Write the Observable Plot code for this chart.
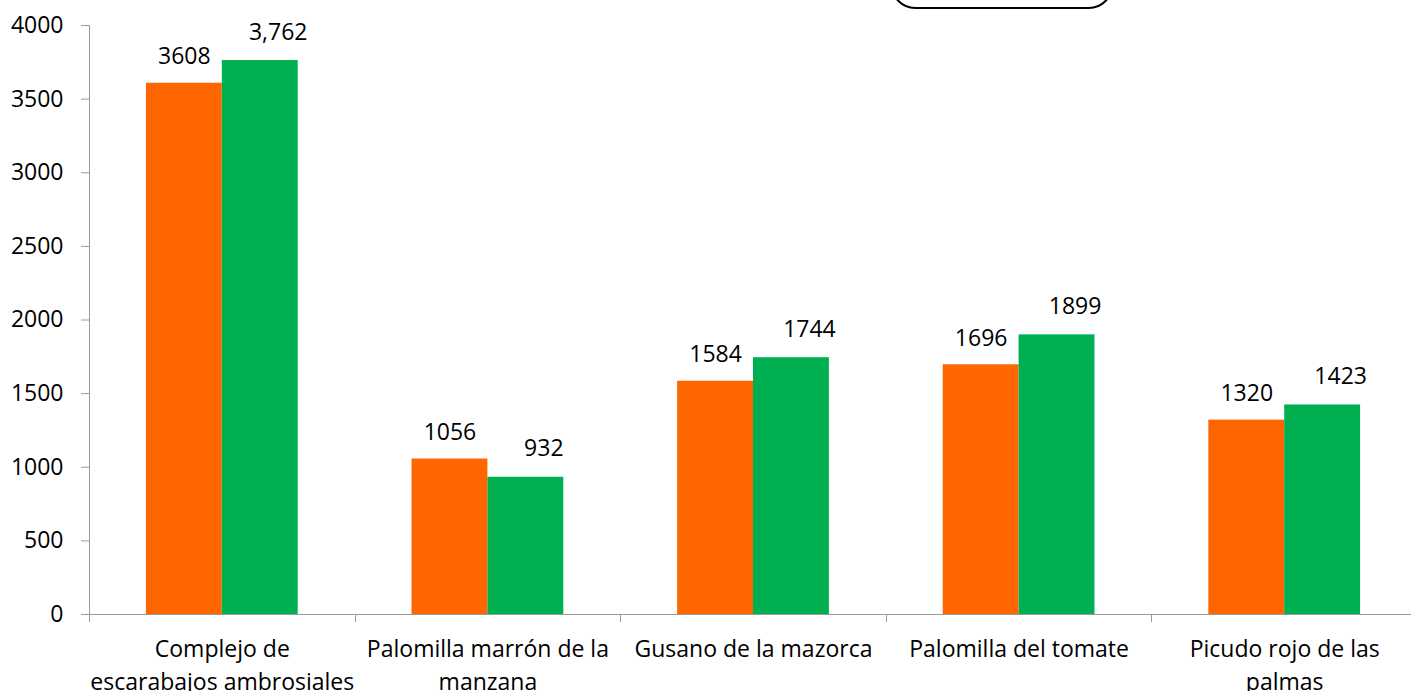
<!DOCTYPE html>
<html>
<head>
<meta charset="utf-8">
<script src="https://cdn.jsdelivr.net/npm/d3@7"></script>
<script src="https://cdn.jsdelivr.net/npm/@observablehq/plot@0.6"></script>
<style>
html, body { margin: 0; padding: 0; background: #fff; }
#wrap { position: relative; width: 1411px; height: 691px; overflow: hidden; background: #fff; }
#wrap svg { display: block; position: absolute; left: 0; top: 0; }
#box { position: absolute; left: 891px; top: -40px; width: 218px; height: 45px; border: 2.5px solid #000; border-radius: 24px; }
</style>
</head>
<body>
<div id="wrap"><div id="box"></div></div>
<script>
// ---- data ----
const categories = [
  "Complejo de\nescarabajos ambrosiales",
  "Palomilla marrón de la\nmanzana",
  "Gusano de la mazorca",
  "Palomilla del tomate",
  "Picudo rojo de las\npalmas"
];
const series = ["Serie 1", "Serie 2"];
const seriesOrange = [3608, 1056, 1584, 1696, 1320];
const seriesGreen = [3762, 932, 1744, 1899, 1423];
const labelsOrange = ["3608", "1056", "1584", "1696", "1320"];
const labelsGreen = ["3,762", "932", "1744", "1899", "1423"];
const yTicks = [0, 500, 1000, 1500, 2000, 2500, 3000, 3500, 4000];
const colors = ["#FF6600", "#00B050"];

const rows = categories.flatMap((c, i) => [
  {category: c, series: series[0], value: seriesOrange[i], label: labelsOrange[i]},
  {category: c, series: series[1], value: seriesGreen[i], label: labelsGreen[i]}
]);

const FS = 23;

const plot = Plot.plot({
  width: 1411,
  height: 691,
  marginLeft: 89,
  marginRight: -6,
  marginTop: 25,
  marginBottom: 77,
  style: {fontFamily: "'Open Sans', sans-serif", fontSize: FS + "px", color: "#000", background: "transparent", overflow: "visible"},
  fx: {domain: categories, padding: 0, round: false, label: null},
  x: {domain: series, paddingInner: 0, paddingOuter: 0.75, round: false, axis: null},
  y: {domain: [0, 4000], label: null},
  color: {domain: series, range: colors},
  marks: [
    Plot.barY(rows, {fx: "category", x: "series", y: "value", fill: "series"}),
    Plot.ruleY([0], {stroke: "#9a9a9a"}),
    Plot.axisY({ticks: yTicks, tickSize: 8, tickPadding: 18, stroke: "#9a9a9a", fill: "#000", fontSize: FS, tickFormat: d => String(d), label: null}),
    Plot.axisFx({anchor: "bottom", tickSize: 0, tickPadding: 19, lineHeight: 1.43, fontSize: FS, fill: "#000", label: null}),
    Plot.text(rows.filter(d => d.series === series[0]), {fx: "category", x: "series", y: "value", text: "label", lineAnchor: "bottom", dy: -19, fontSize: FS, fill: "#000"}),
    Plot.text(rows.filter(d => d.series === series[1]), {fx: "category", x: "series", y: "value", text: "label", lineAnchor: "bottom", dx: 18, dy: -21, fontSize: FS, fill: "#000"})
  ]
});

const wrap = document.getElementById("wrap");
wrap.insertBefore(plot, wrap.firstChild);

// category boundary ticks and the value axis line, from the plot's own scales
const fxs = plot.scale("fx");
const ys = plot.scale("y");
const band = d3.scaleBand().domain(fxs.domain).range(fxs.range).paddingInner(0).paddingOuter(0);
const y0 = ys.apply(0);
const yTop = ys.apply(yTicks[yTicks.length - 1]);
const edges = fxs.domain.map(c => band(c)).concat([band(fxs.domain[fxs.domain.length - 1]) + band.bandwidth()]);
const g = d3.select(plot).append("g").attr("stroke", "#9a9a9a").attr("stroke-width", 1);
g.append("line").attr("x1", edges[0] + 0.5).attr("x2", edges[0] + 0.5).attr("y1", yTop).attr("y2", y0);
edges.forEach(x => {
  g.append("line").attr("x1", Math.round(x) + 0.5).attr("x2", Math.round(x) + 0.5).attr("y1", y0).attr("y2", y0 + 8);
});
</script>
</body>
</html>
